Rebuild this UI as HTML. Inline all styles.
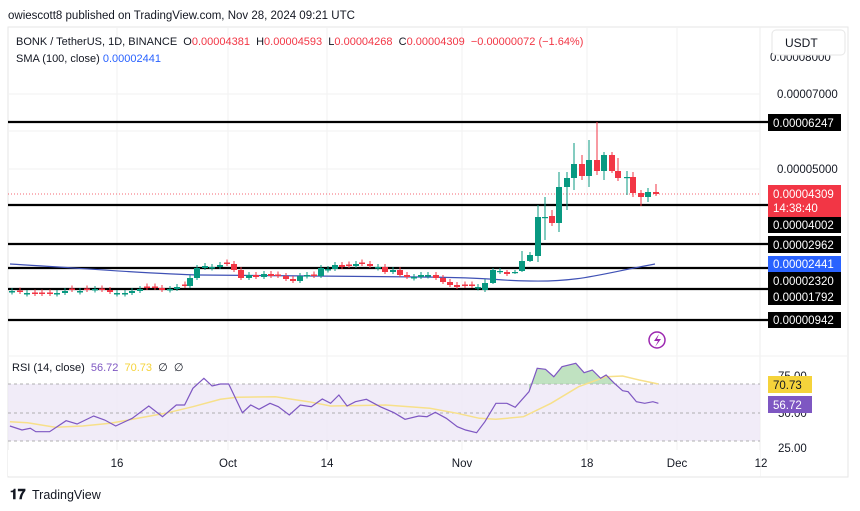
<!DOCTYPE html>
<html><head><meta charset="utf-8"><style>
body{margin:0;background:#fff;width:860px;height:511px;overflow:hidden;font-family:"Liberation Sans",sans-serif;}
svg{position:absolute;left:0;top:0}
</style></head><body>
<svg id="s" width="860" height="511" viewBox="0 0 860 511" font-family="Liberation Sans, sans-serif">
<rect x="8" y="27" width="840" height="450" fill="#fff" stroke="#e6e6e6"/>
<line x1="760" y1="27" x2="760" y2="477" stroke="#eee"/>
<g stroke="#f2f2f2">
<line x1="117" y1="27" x2="117" y2="450"/><line x1="228" y1="27" x2="228" y2="450"/><line x1="327" y1="27" x2="327" y2="450"/><line x1="462" y1="27" x2="462" y2="450"/><line x1="587" y1="27" x2="587" y2="450"/><line x1="677" y1="27" x2="677" y2="450"/>
<line x1="8" y1="94" x2="760" y2="94"/><line x1="8" y1="169" x2="760" y2="169"/><line x1="8" y1="131" x2="760" y2="131"/><line x1="8" y1="356" x2="848" y2="356"/>
</g>
<text x="8" y="19" font-size="11.5" fill="#131722">owiescott8 published on TradingView.com, Nov 28, 2024 09:21 UTC</text>
<text x="16" y="45" font-size="11" fill="#131722" xml:space="preserve">BONK / TetherUS, 1D, BINANCE  O<tspan fill="#f23645">0.00004381</tspan>  H<tspan fill="#f23645">0.00004593</tspan>  L<tspan fill="#f23645">0.00004268</tspan>  C<tspan fill="#f23645">0.00004309</tspan>  <tspan fill="#f23645">−0.00000072 (−1.64%)</tspan></text>
<text x="16" y="62" font-size="11" fill="#131722">SMA (100, close) <tspan fill="#2962ff">0.00002441</tspan></text>
<text x="770" y="61" font-size="11.5" fill="#131722">0.00008000</text>
<rect x="772" y="30" width="73" height="25" rx="4" fill="#fff" stroke="#e6e6e6"/>
<text x="785" y="47" font-size="12" fill="#131722">USDT</text>
<text x="777" y="98" font-size="11.5" fill="#131722">0.00007000</text>
<text x="777" y="173" font-size="11.5" fill="#131722">0.00005000</text>
<line x1="8" y1="194" x2="760" y2="194" stroke="#f23645" stroke-dasharray="1,2" stroke-width="0.8"/>
<g stroke="#000" stroke-width="2.2">
<line x1="8" y1="122" x2="768" y2="122"/><line x1="8" y1="205" x2="768" y2="205"/><line x1="8" y1="244" x2="768" y2="244"/><line x1="8" y1="268" x2="768" y2="268"/><line x1="8" y1="289" x2="768" y2="289"/><line x1="8" y1="320" x2="768" y2="320"/>
</g>
<g id="sma"></g><g id="cd"></g>
<g font-size="11.5" fill="#fff">
<rect x="768" y="114" width="73" height="17" fill="#000"/><text x="773" y="127">0.00006247</text>
<rect x="768" y="185" width="73" height="32" fill="#f23645"/><text x="773" y="198">0.00004309</text><text x="773" y="212">14:38:40</text>
<rect x="768" y="217" width="73" height="16" fill="#000"/><text x="773" y="229">0.00004002</text>
<rect x="768" y="236" width="73" height="17" fill="#000"/><text x="773" y="249">0.00002962</text>
<rect x="768" y="256" width="73" height="16" fill="#2962ff"/><text x="773" y="268">0.00002441</text>
<rect x="768" y="272" width="73" height="33" fill="#000"/><text x="773" y="285">0.00002320</text><text x="773" y="301">0.00001792</text>
<rect x="768" y="312" width="73" height="16" fill="#000"/><text x="773" y="324">0.00000942</text>
</g>
<circle cx="657" cy="340" r="8" fill="none" stroke="#9c27b0" stroke-width="1.5"/>
<path d="M659 334 L654 341 L658 341 L655 347 L661 339 L657 339 Z" fill="#9c27b0"/>
<rect x="8" y="384" width="752" height="57" fill="#ede7f6" opacity="0.8"/>
<g stroke="#999" stroke-dasharray="3,3" stroke-width="0.8">
<line x1="8" y1="384" x2="760" y2="384"/><line x1="8" y1="413" x2="760" y2="413"/><line x1="8" y1="441" x2="760" y2="441"/>
</g>
<g id="rsi"></g>
<text x="12" y="371" font-size="11" fill="#131722" xml:space="preserve">RSI (14, close)  <tspan fill="#7e57c2">56.72</tspan>  <tspan fill="#f5d33b">70.73</tspan>  ∅  ∅</text>
<text x="778" y="452" font-size="11.5" fill="#131722">25.00</text>
<text x="778" y="417" font-size="11.5" fill="#131722">50.00</text>
<text x="778" y="380" font-size="11.5" fill="#131722">75.00</text>
<rect x="768" y="376" width="44" height="17" fill="#f5d33b"/><text x="773" y="389" font-size="11.5" fill="#131722">70.73</text>
<rect x="768" y="396" width="44" height="17" fill="#7e57c2"/><text x="773" y="409" font-size="11.5" fill="#fff">56.72</text>
<rect x="8" y="450" width="752" height="26" fill="#fff"/>
<g font-size="11.5" fill="#131722" text-anchor="middle">
<text x="117" y="467">16</text><text x="228" y="467">Oct</text><text x="327" y="467">14</text><text x="462" y="467">Nov</text><text x="587" y="467">18</text><text x="677" y="467">Dec</text><text x="761" y="467">12</text>
</g>
<text x="10" y="499" font-size="14" font-weight="bold" fill="#131722">𝟏𝟕</text>
<text x="32" y="499" font-size="12.5" fill="#131722">TradingView</text>
</svg>
<script>
var NS="http://www.w3.org/2000/svg";
function el(p,t,a){var e=document.createElementNS(NS,t);for(var k in a)e.setAttribute(k,a[k]);document.getElementById(p).appendChild(e);}
var early=[[12,291],[20,292],[27,293],[35,294],[42,294],[50,294],[57,293],[65,291],[72,290],[80,291],[87,290],[95,289],[102,290],[110,292],[117,293],[125,293],[132,291],[140,289],[147,288],[155,288],[162,290],[170,289],[177,287],[185,286],[190,278],[197,268],[205,266],[212,267],[220,265],[227,264],[234,270],[241,278],[249,275],[256,277],[264,274],[271,276],[278,276],[286,279],[293,281],[300,276],[307,275],[314,276],[321,268],[328,269],[335,265],[342,267],[349,266],[356,264],[362,264],[370,266],[378,267],[385,272],[393,270],[400,275],[407,277],[414,277],[421,275],[428,275],[436,278],[443,282],[450,285],[457,287],[465,286],[472,286],[478,287]];
var prev=291;
early.forEach(function(d){var o=prev,c=d[1];prev=c;if(Math.abs(o-c)<1.5){o=c+(c%2?1:-1)*1.5;}draw(d[0],o,c,Math.min(o,c)-3,Math.max(o,c)+2);});
var late=[[485,290,283,279,292],[493,283,270,268,284],[500,272,271,268,274],[507,272,274,270,276],[515,273,272,270,274],[522,271,261,251,272],[530,261,255,252,262],[538,256,217,205,262],[545,217,217,197,240],[552,216,223,210,226],[559,223,187,172,232],[567,187,178,172,210],[574,178,164,143,190],[582,164,176,155,180],[589,176,160,140,187],[597,160,171,122,175],[604,171,155,152,180],[612,155,171,152,173],[618,171,178,158,181],[627,177,177,171,195],[633,177,193,172,197],[641,193,197,190,206],[648,197,192,188,202],[656,192,194,184,196]];
late.forEach(function(d){draw(d[0],d[1],d[2],d[3],d[4]);});
function draw(x,o,c,h,l){var up=c<=o;var col=up?"#089981":"#f23645";
el("cd","line",{x1:x,x2:x,y1:h,y2:l,stroke:col,"stroke-width":1});
var t=Math.min(o,c),b=Math.max(o,c);if(b-t<1.2)b=t+1.2;
el("cd","rect",{x:x-3,y:t,width:6,height:b-t,fill:col});}
el("sma","path",{d:"M10 264 C80 268 150 274 200 275 S330 276 420 277 S480 280 530 281 S600 274 655 264",fill:"none",stroke:"#3f51b5","stroke-width":1.2});
var r=[[18,228],[40,240],[55,235],[65,245],[90,245],[120,212],[140,222],[170,198],[190,210],[210,228],[240,205],[270,168],[295,200],[320,165],[335,165],[350,115],[370,85],[385,108],[400,102],[415,102],[440,188],[455,165],[470,178],[490,160],[505,170],[525,195],[545,165],[565,170],[585,147],[600,160],[615,135],[630,168],[645,155],[665,148],[690,170],[715,188],[735,208],[760,198],[775,200],[790,187],[810,205],[830,230],[845,240],[865,248],[880,215],[900,160],[920,160],[935,172],[960,125],[975,55],[990,58],[1005,80],[1020,50],[1045,40],[1060,68],[1075,60],[1090,85],[1100,75],[1115,100],[1130,122],[1140,125],[1155,155],[1170,160],[1185,155],[1195,160]];
var sg=[[18,215],[50,218],[100,232],[150,228],[200,220],[250,205],[300,190],[350,170],[400,148],[430,142],[500,140],[560,155],[600,168],[700,165],[780,175],[830,190],[870,205],[900,208],[950,200],[1000,160],[1050,110],[1100,80],[1130,78],[1160,90],[1195,102]];
function pts(a){return a.map(function(p){return (p[0]*0.551).toFixed(1)+","+(350+p[1]/3).toFixed(1);}).join(" ");}
var g=r.filter(function(p){return p[0]>=960&&p[0]<=1115;});
el("rsi","polygon",{points:"529,384 "+pts(g)+" 614,384",fill:"#a5d6a7",opacity:"0.7"});
el("rsi","polyline",{points:pts(sg),fill:"none",stroke:"#f7e08a","stroke-width":1.5});
el("rsi","polyline",{points:pts(r),fill:"none",stroke:"#7e57c2","stroke-width":1.2});
</script>
</body></html>
